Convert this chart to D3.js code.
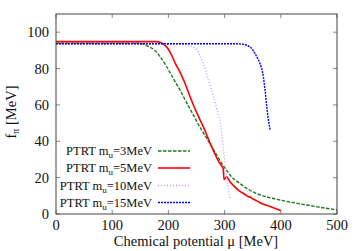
<!DOCTYPE html>
<html>
<head>
<meta charset="utf-8">
<script src="https://cdn.jsdelivr.net/npm/d3@7"></script>
<style>
  html, body { margin: 0; padding: 0; background: #fff; }
</style>
</head>
<body>
<svg id="chart" width="358" height="251"></svg>
<script>
// chart data
const xTicks = [0, 100, 200, 300, 400, 500];
const yTicks = [0, 20, 40, 60, 80, 100];

const mu3 = [0, 145, 155, 165, 175, 185, 195, 205, 215, 221, 230, 240, 250, 259, 270, 280, 290, 300, 313, 327, 340, 355, 375, 400, 434, 460, 500];
const f3  = [94, 94, 93.4, 92.1, 90.3, 86.6, 82, 76.6, 71.2, 68, 62.6, 57, 51.2, 46.2, 40.7, 35.5, 30.3, 25.5, 20.3, 16.8, 14, 11.5, 9.4, 7.6, 5.6, 4.2, 2.2];

const mu5 = [0, 178, 186, 193, 199, 205, 212, 220, 230, 241, 253, 265, 272, 278, 284, 290, 296, 297.5, 299, 301, 304, 309, 315, 325, 335, 344, 346, 348, 352, 363, 380, 400];
const f5  = [94.8, 94.8, 94.3, 93, 91, 87.8, 83, 78.4, 71.5, 62.6, 54, 46, 40.5, 36.3, 32.2, 28.5, 25.8, 25, 19, 19.6, 20.4, 18, 15.9, 13, 11, 9.3, 9.4, 8.7, 8.1, 6.2, 4.2, 1.9];

const mu10 = [0, 220, 230, 240, 250, 256, 262, 271, 280, 286, 292, 297.5, 303, 309.6];
const f10  = [93.4, 93.4, 93.1, 92.3, 90.6, 87.3, 82.8, 74, 65, 58, 51, 37, 21.5, 7.7];

const mu15 = [0, 320, 333, 340, 345, 350, 354, 358, 363, 369, 372, 375, 378, 381];
const f15  = [93.6, 93.6, 93.3, 92.7, 91.9, 90.3, 88.3, 86, 82.8, 75.4, 68.1, 59, 51.6, 46.2];

const seriesMass = ["3", "5", "10", "15"];
const seriesColor = ["#1f7a1f", "#ff0000", "#cc99ff", "#0000ff"];
const seriesDash = ["3.5,1.5", null, "1,2", "2,1"];

const series = [[mu3, f3], [mu5, f5], [mu10, f10], [mu15, f15]];

const serif = "'Liberation Serif', 'Times New Roman', serif";
const svg = d3.select("#chart").style("font-family", serif);
const plotL = 56, plotR = 337, plotT = 14, plotB = 214;

const x = d3.scaleLinear().domain([0, 500]).range([plotL, plotR]);
const y = d3.scaleLinear().domain([0, 110]).range([plotB, plotT]);

// ticks (inward on all four sides, gnuplot style)
const tickLen = 4;
const ticks = svg.append("g").attr("stroke", "#888").attr("stroke-width", 1);
xTicks.forEach(t => {
  ticks.append("line").attr("x1", x(t)).attr("x2", x(t)).attr("y1", plotB).attr("y2", plotB - tickLen);
  ticks.append("line").attr("x1", x(t)).attr("x2", x(t)).attr("y1", plotT).attr("y2", plotT + tickLen);
});
yTicks.forEach(t => {
  ticks.append("line").attr("x1", plotL).attr("x2", plotL + tickLen).attr("y1", y(t)).attr("y2", y(t));
  ticks.append("line").attr("x1", plotR).attr("x2", plotR - tickLen).attr("y1", y(t)).attr("y2", y(t));
});

svg.append("g").selectAll("text").data(xTicks).enter().append("text")
  .attr("x", d => x(d)).attr("y", 230)
  .attr("text-anchor", "middle")
  .style("font-family", serif).style("font-size", "14.5px").style("fill", "#111")
  .text(d => d);

svg.append("g").selectAll("text").data(yTicks).enter().append("text")
  .attr("x", 49).attr("y", d => y(d) + 5)
  .attr("text-anchor", "end")
  .style("font-family", serif).style("font-size", "14.5px").style("fill", "#111")
  .text(d => d);

// curves
const line = d3.line().x(d => x(d[0])).y(d => y(d[1])).curve(d3.curveMonotoneX);
series.forEach((s, i) => {
  const pts = s[0].map((m, j) => [m, s[1][j]]);
  svg.append("path")
    .datum(pts)
    .attr("d", line)
    .attr("fill", "none")
    .attr("stroke", seriesColor[i])
    .attr("stroke-width", i === 1 ? 1.6 : 1.4)
    .attr("stroke-dasharray", seriesDash[i]);
});

// frame
svg.append("rect")
  .attr("x", plotL).attr("y", plotT)
  .attr("width", plotR - plotL).attr("height", plotB - plotT)
  .attr("fill", "none").attr("stroke", "#444").attr("stroke-width", 1);

// legend
const legendY = [151, 168, 185.5, 202.5];
seriesMass.forEach((m, i) => {
  const t = svg.append("text")
    .attr("x", 152).attr("y", legendY[i] + 4)
    .attr("text-anchor", "end")
    .style("font-family", serif).style("font-size", "12.5px").style("fill", "#111");
  t.append("tspan").text("PTRT m");
  t.append("tspan").attr("dy", 3).style("font-size", "9px").text("u");
  t.append("tspan").attr("dy", -3).text("=" + m + "MeV");
  svg.append("line")
    .attr("x1", 158).attr("x2", 190)
    .attr("y1", legendY[i]).attr("y2", legendY[i])
    .attr("stroke", seriesColor[i])
    .attr("stroke-width", i === 1 ? 1.6 : 1.4)
    .attr("stroke-dasharray", seriesDash[i]);
});

// axis titles
svg.append("text")
  .attr("x", 196).attr("y", 246)
  .attr("text-anchor", "middle")
  .style("font-family", serif).style("font-size", "14.5px").style("fill", "#111")
  .text("Chemical potential μ [MeV]");

const yl = svg.append("text")
  .attr("transform", "translate(16,112) rotate(-90)")
  .attr("text-anchor", "middle")
  .style("font-family", serif).style("font-size", "14.5px").style("fill", "#111");
yl.append("tspan").text("f");
yl.append("tspan").attr("dy", 3).style("font-size", "10px").text("π");
yl.append("tspan").attr("dy", -3).text(" [MeV]");
</script>
</body>
</html>
